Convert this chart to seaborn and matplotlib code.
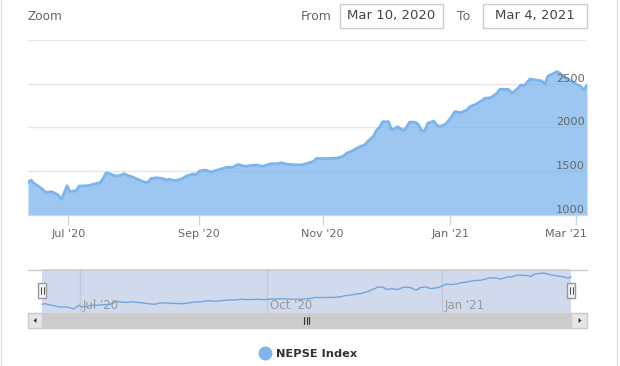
import numpy as np
import pandas as pd
import matplotlib
matplotlib.use("Agg")
import matplotlib.pyplot as plt
import seaborn as sns
from matplotlib.patches import Rectangle, Polygon
from matplotlib.lines import Line2D
from matplotlib.transforms import ScaledTranslation, offset_copy

# NEPSE index (x = trading session since Mar 10, 2020)
session = [0, 1, 2, 4, 6, 8, 10, 11, 12, 13, 14, 16, 17, 20, 22, 24, 25, 26, 27, 29,
           30, 32, 33, 35, 37, 39, 40, 41, 43, 45, 46, 47, 49, 51, 53, 55, 56, 57, 59, 61,
           63, 66, 68, 70, 72, 73, 76, 78, 81, 83, 84, 86, 88, 91, 93, 95, 96, 98, 101, 103,
           105, 106, 108, 110, 111, 112, 113, 115, 116, 117, 118, 120, 121, 122, 123, 125, 126, 127, 129, 130,
           131, 132, 133, 135, 136, 137, 139, 141, 142, 144, 146, 147, 149, 151, 152, 154, 156, 157, 159, 160,
           161, 163, 164, 165, 166, 167, 169, 171, 172, 173, 175, 176, 177, 179, 181, 183, 184, 185, 186]
nepse = [1369, 1400, 1362, 1317, 1259, 1266, 1229, 1179, 1248, 1335, 1266, 1278, 1331, 1335, 1354, 1369, 1419, 1480, 1476, 1446,
         1446, 1472, 1454, 1431, 1400, 1373, 1377, 1419, 1426, 1415, 1400, 1408, 1392, 1411, 1449, 1469, 1461, 1503, 1514, 1491,
         1514, 1545, 1545, 1579, 1556, 1560, 1572, 1556, 1587, 1587, 1598, 1583, 1575, 1572, 1591, 1614, 1648, 1644, 1648, 1651,
         1674, 1705, 1735, 1773, 1789, 1800, 1838, 1903, 1971, 2002, 2066, 2066, 1971, 1990, 2009, 1964, 2009, 2063, 2059, 2029,
         1964, 1960, 2048, 2074, 2029, 2009, 2040, 2124, 2181, 2170, 2200, 2238, 2265, 2307, 2334, 2341, 2391, 2437, 2437, 2433,
         2391, 2448, 2486, 2478, 2512, 2554, 2543, 2532, 2497, 2589, 2620, 2638, 2620, 2562, 2524, 2486, 2467, 2429, 2486]

month_pos = [13.4, 57, 98, 140.5, 182.5]
month_labels = ["Jul '20", "Sep '20", "Nov '20", "Jan '21", "Mar '21"]
nav_pos = [13.4, 79, 140.5]
nav_labels = ["Jul '20", "Oct '20", "Jan '21"]
y_ticks = [1000, 1500, 2000, 2500, 3000]
y_labels = ["1000", "1500", "2000", "2500", ""]
date_from = "Mar 10, 2020"
date_to = "Mar 4, 2021"
series_name = "NEPSE Index"

df = pd.DataFrame({"session": session, "close": nepse})

W, H = 620, 366
BLUE = "#7cb5ec"
sns.set_theme(style="white")
plt.rcParams["font.family"] = ["DejaVu Sans"]

fig = plt.figure(figsize=(W / 100, H / 100), dpi=100, facecolor="white")


def px_axes(x0, y0, x1, y1, **kw):
    return fig.add_axes([x0 / W, 1 - y1 / H, (x1 - x0) / W, (y1 - y0) / H], **kw)


# main chart
ax = px_axes(28, 40, 587, 215)
for t in y_ticks:
    ax.axhline(t, color="#e6e6e6", lw=1, zorder=0)
ax.fill_between(df["session"], df["close"], y_ticks[0], color=BLUE, alpha=0.75, lw=0, zorder=1)
sns.lineplot(data=df, x="session", y="close", ax=ax, color=BLUE, lw=2, legend=False, zorder=2)
ax.set_xlim(session[0], session[-1])
ax.set_ylim(y_ticks[0], y_ticks[-1])
ax.set_xlabel("")
ax.set_ylabel("")
for s in ["top", "left", "right"]:
    ax.spines[s].set_visible(False)
ax.spines["bottom"].set_color("#ccd6eb")
ax.spines["bottom"].set_linewidth(1)
ax.set_facecolor("none")

ax.yaxis.tick_right()
ax.yaxis.set_zorder(3)
ax.set_yticks(y_ticks, y_labels)
ax.tick_params(axis="y", length=0, pad=-1.5, labelsize=8.2, labelcolor="#666666")
plt.setp(ax.get_yticklabels(), ha="right", va="bottom")

ax.set_xticks(month_pos, month_labels)
ax.tick_params(axis="x", bottom=True, direction="out", length=7, width=1, color="#ccd6eb",
               pad=3, labelsize=8, labelcolor="#666666")
last = ax.get_xticklabels()[-1]
last.set_ha("right")
last.set_transform(last.get_transform() + ScaledTranslation(0.10, 0, fig.dpi_scale_trans))

# navigator
nav = px_axes(28, 269, 587, 313)
span = session[-1] - session[0]
nav.set_xlim(session[0] - span * 14 / 529, session[-1] + span * 16 / 529)
lo, hi = min(nepse), max(nepse)
step = (hi - lo) / 36
nav.set_ylim(lo - 4 * step, hi + 4 * step)
nav.axvspan(session[0], session[-1], color="#d1daed", lw=0, zorder=0)
for p in nav_pos:
    nav.axvline(p, color="#c0c9db", lw=1, zorder=1)
sns.lineplot(data=df, x="session", y="close", ax=nav, color="#6fa6e0", lw=1, legend=False, zorder=2)
nav.set_xlabel("")
nav.set_ylabel("")
nav.set_xticks([])
nav.set_yticks([])
for s in nav.spines.values():
    s.set_visible(False)
nav.set_facecolor("white")
lab_tr = offset_copy(nav.get_xaxis_transform(), fig=fig, x=3, y=0, units="dots")
for p, lab in zip(nav_pos, nav_labels):
    nav.text(p, 0.18, lab, transform=lab_tr, ha="left", va="center", fontsize=8.5, color="#999999")

# decorations in pixel space (range selector, handles, scrollbar, frame)
deco = fig.add_axes([0, 0, 1, 1], zorder=10)
deco.set_xlim(0, W)
deco.set_ylim(H, 0)
deco.axis("off")
deco.patch.set_alpha(0)

x_lo = nav.transData.transform((session[0], 0))[0]
x_hi = nav.transData.transform((session[-1], 0))[0]

deco.plot([28, 587], [269.5, 269.5], color="#cccccc", lw=1)

for xh in (x_lo, x_hi):
    deco.add_patch(Rectangle((xh - 4, 283), 8, 15, fc="#f2f2f2", ec="#999999", lw=1))
    for dx in (-1.5, 1.5):
        deco.plot([xh + dx, xh + dx], [287, 294], color="#333333", lw=0.6)

# scrollbar
deco.add_patch(Rectangle((28, 313), 559, 15, fc="#f2f2f2", ec="#f2f2f2", lw=1))
deco.add_patch(Rectangle((x_lo, 313), x_hi - x_lo, 15, fc="#cccccc", ec="#cccccc", lw=1))
deco.add_patch(Rectangle((28, 313), x_lo - 28, 15, fc="#e6e6e6", ec="#cccccc", lw=1))
deco.add_patch(Rectangle((x_hi, 313), 587 - x_hi, 15, fc="#e6e6e6", ec="#cccccc", lw=1))
deco.add_patch(Polygon([(33.5, 320.5), (36.5, 318), (36.5, 323)], closed=True, fc="#333333", ec="none"))
deco.add_patch(Polygon([(581.5, 320.5), (578.5, 318), (578.5, 323)], closed=True, fc="#333333", ec="none"))
xm = (x_lo + x_hi) / 2
for dx in (-2.5, 0, 2.5):
    deco.plot([xm + dx, xm + dx], [317, 324], color="#333333", lw=0.8)

# range selector
deco.text(28, 17, "Zoom", ha="left", va="center", fontsize=8.7, color="#666666")
deco.text(332, 16, "From", ha="right", va="center", fontsize=9, color="#666666")
deco.text(457, 16, "To", ha="left", va="center", fontsize=9, color="#666666")
deco.add_patch(Rectangle((340, 4), 103, 24, fc="white", ec="#cccccc", lw=1))
deco.add_patch(Rectangle((483, 4), 104, 24, fc="white", ec="#cccccc", lw=1))
deco.text(391.5, 16, date_from, ha="center", va="center", fontsize=9.5, color="#444444")
deco.text(535, 16, date_to, ha="center", va="center", fontsize=9.5, color="#444444")

# container frame
deco.plot([1, 1], [0, H], color="#dddddd", lw=1)
deco.plot([617, 617], [0, H], color="#dddddd", lw=1)

# legend
handle = Line2D([], [], marker="o", ls="", color=BLUE, markersize=9)
fig.legend(handles=[handle], labels=[series_name], loc="center",
           bbox_to_anchor=(308 / W, 1 - 354 / H), frameon=False, handlelength=1.0,
           handletextpad=0.5, prop={"weight": "bold", "size": 8.2}, labelcolor="#333333")

fig.savefig("out.png", dpi=100, facecolor="white")
